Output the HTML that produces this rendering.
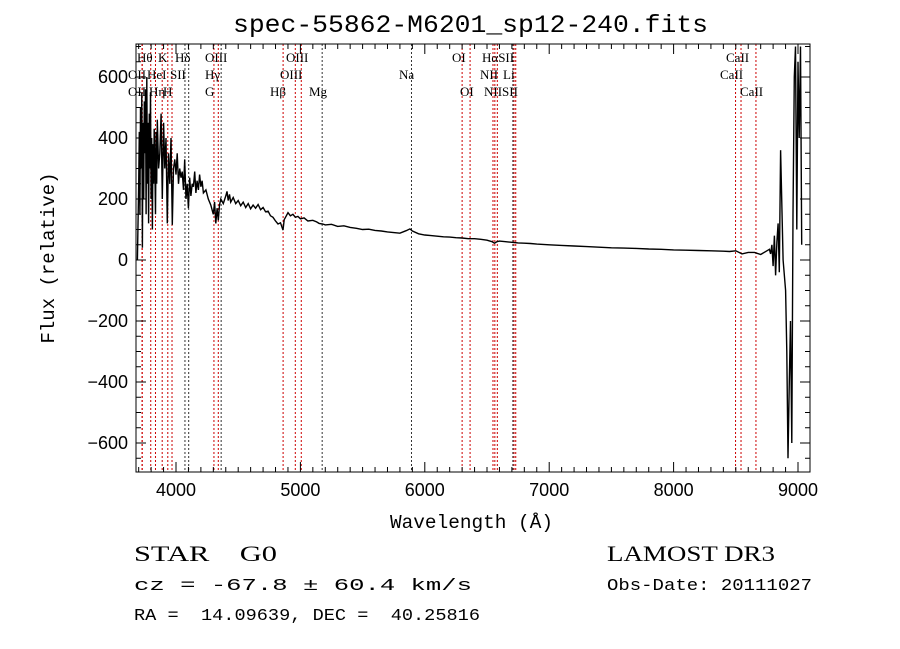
<!DOCTYPE html>
<html><head><meta charset="utf-8"><style>
body{margin:0;background:#fff;}
svg{display:block;font-family:"Liberation Sans",sans-serif;}
text{white-space:pre;}
</style></head><body>
<svg id="chart" width="900" height="649" viewBox="0 0 900 649">
<rect x="0" y="0" width="900" height="649" fill="#fff"/>
<text x="233" y="32" textLength="475" lengthAdjust="spacingAndGlyphs" font-family="Liberation Mono, monospace" font-size="25">spec-55862-M6201_sp12-240.fits</text>
<g id="lines"></g>
<g id="labels" font-family="Liberation Serif, serif" font-size="13"></g>
<g id="ticks"></g>
<path id="spec" fill="none" stroke="#000" stroke-width="1.4"/>
<rect x="136" y="44" width="674" height="428" fill="none" stroke="#000" stroke-width="1"/>
<text x="390" y="528" textLength="163" lengthAdjust="spacingAndGlyphs" font-family="Liberation Mono, monospace" font-size="19">Wavelength (Å)</text>
<text transform="translate(54,258) rotate(-90)" text-anchor="middle" font-family="Liberation Mono, monospace" font-size="19">Flux (relative)</text>
<text x="134" y="561" textLength="143" lengthAdjust="spacingAndGlyphs" font-family="Liberation Serif, serif" font-size="22">STAR    G0</text>
<text x="607" y="561" textLength="168" lengthAdjust="spacingAndGlyphs" font-family="Liberation Serif, serif" font-size="22">LAMOST DR3</text>
<text x="134" y="590" textLength="338" lengthAdjust="spacingAndGlyphs" font-family="Liberation Mono, monospace" font-size="17">cz = -67.8 ± 60.4 km/s</text>
<text x="607" y="590" textLength="205" lengthAdjust="spacingAndGlyphs" font-family="Liberation Mono, monospace" font-size="17">Obs-Date: 20111027</text>
<text x="134" y="620" textLength="346" lengthAdjust="spacingAndGlyphs" font-family="Liberation Mono, monospace" font-size="17">RA =  14.09639, DEC =  40.25816</text>
</svg>
<script>
const wave=[3690,3700,3705,3710,3715,3720,3725,3730,3735,3740,3745,3750,3755,3760,3765,3770,3775,3780,3785,3790,3795,3800,3805,3810,3815,3820,3825,3830,3835,3840,3845,3850,3860,3870,3880,3890,3900,3910,3920,3930,3940,3950,3960,3970,3980,3990,4000,4010,4020,4030,4040,4050,4060,4070,4080,4090,4100,4110,4120,4130,4140,4150,4160,4170,4180,4190,4200,4210,4220,4240,4260,4280,4300,4310,4320,4330,4340,4350,4360,4380,4400,4410,4420,4430,4440,4460,4480,4500,4520,4540,4560,4580,4600,4620,4640,4660,4680,4700,4720,4740,4760,4780,4800,4820,4840,4860,4870,4880,4900,4920,4940,4960,4980,5000,5030,5060,5100,5130,5150,5180,5200,5250,5300,5350,5400,5450,5500,5550,5600,5650,5700,5750,5800,5850,5880,5900,5950,6000,6050,6100,6150,6200,6250,6300,6350,6400,6450,6500,6540,6560,6580,6600,6650,6700,6750,6800,6850,6900,6950,7000,7100,7200,7300,7400,7500,7600,7700,7800,7900,8000,8100,8200,8300,8400,8450,8500,8550,8600,8650,8700,8750,8770,8780,8790,8800,8810,8820,8830,8840,8850,8860,8880,8900,8910,8920,8930,8940,8950,8960,8970,8980,8990,9000,9010,9020,9030];
const flux=[0,250,420,150,500,300,550,40,450,200,520,350,560,150,600,250,450,120,480,300,550,200,400,100,380,250,430,300,150,420,250,460,300,350,480,200,450,300,400,120,350,250,400,115,300,330,280,350,250,300,270,290,230,330,200,250,170,270,210,250,240,290,220,260,230,280,240,260,220,230,200,180,150,190,120,170,130,180,200,185,210,225,195,215,190,205,185,195,178,190,172,185,168,180,170,182,165,172,158,160,145,140,128,118,122,98,132,140,155,145,150,140,143,135,138,128,130,125,120,118,115,117,110,112,107,104,100,101,97,95,92,90,88,96,102,95,86,82,80,78,76,75,73,72,70,70,68,65,60,55,60,62,60,58,56,55,54,52,51,50,48,46,44,42,40,39,38,36,35,33,32,31,30,29,28,30,20,25,25,18,30,35,20,50,-20,80,-50,60,120,-40,360,0,-100,-300,-650,-400,-200,-600,150,600,700,100,650,400,700,50,0];
const lineWaves=[3727,3729,3797,3835,3889,3934,3968,4072,4102,4305,4340,4363,4861,4959,5007,5175,5893,6300,6364,6548,6563,6583,6708,6717,6731,8498,8542,8662];
const lineColors=["red","red","red","red","red","red","red","black","black","red","red","black","red","red","red","black","black","red","red","red","red","red","black","red","red","red","red","red"];
const labelTexts=["Hθ","K","Hδ","OIII","OIII","OI","HαSII","CaII","OII","HeI","SII","Hγ","OIII","Na","NII","Li","CaII","OII","Hη","H","G","Hβ","Mg","OI","NIISII","CaII"];
const labelRows=[0,0,0,0,0,0,0,0,1,1,1,1,1,1,1,1,1,2,2,2,2,2,2,2,2,2];
const labelXs=[137,158,175,205,286,452,482,726,128,147,170,205,280,399,480,503,720,128,149,163,205,270,309,460,484,740];
const xTicks=[4000,5000,6000,7000,8000,9000];
const yTicks=[-600,-400,-200,0,200,400,600];
const X0=136,X1=810,Y0=44,Y1=472;
const xs=w=>176+(w-4000)*0.1244;
const ys=f=>260-f*0.305;
const NS="http://www.w3.org/2000/svg";
function mk(t,p,a){const e=document.createElementNS(NS,t);for(const k in a)e.setAttribute(k,a[k]);p.appendChild(e);return e;}
const gl=document.getElementById('lines');
lineWaves.forEach((w,i)=>{const x=xs(w);const e=mk('line',gl,{x1:x,x2:x,y1:Y0,y2:Y1,stroke:lineColors[i]==="red"?"#c00":"#333","stroke-width":1,"stroke-dasharray":"2,2"});

});
const glab=document.getElementById('labels');
labelTexts.forEach((t,i)=>{const e=mk('text',glab,{x:labelXs[i],y:62+labelRows[i]*17});e.textContent=t;

});
const gt=document.getElementById('ticks');
for(let w=3700;w<=9000;w+=100){const x=xs(w);if(x<X0||x>X1)continue;const L=(w%1000===0)?10:5;
mk('line',gt,{x1:x,x2:x,y1:Y1,y2:Y1-L,stroke:"#000"});mk('line',gt,{x1:x,x2:x,y1:Y0,y2:Y0+L,stroke:"#000"});}
for(let f=-650;f<=700;f+=50){const y=ys(f);if(y<Y0||y>Y1)continue;const L=(f%200===0)?10:5;
mk('line',gt,{x1:X0,x2:X0+L,y1:y,y2:y,stroke:"#000"});mk('line',gt,{x1:X1,x2:X1-L,y1:y,y2:y,stroke:"#000"});}
xTicks.forEach(v=>{const e=mk('text',gt,{x:xs(v),y:Y1+24,"text-anchor":"middle","font-size":"18"});e.textContent=v;

});
yTicks.forEach(v=>{const e=mk('text',gt,{x:X0-8,y:ys(v)+6,"text-anchor":"end","font-size":"18"});e.textContent=v===0?"0":(v<0?"−"+(-v):v);

});
let d="";wave.forEach((w,i)=>{d+=(i?"L":"M")+xs(w).toFixed(1)+","+Math.max(Y0,Math.min(Y1,ys(flux[i]))).toFixed(1);});
document.getElementById('spec').setAttribute('d',d);
</script>
</body></html>
